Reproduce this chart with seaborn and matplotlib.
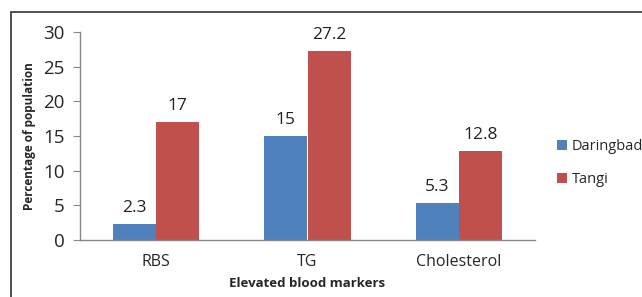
import numpy as np
import matplotlib
matplotlib.use("Agg")
import matplotlib.pyplot as plt
import matplotlib.patches as mpatches
import seaborn as sns
import pandas as pd

# Chart data
markers = ["RBS", "TG", "Cholesterol"]
daringbad = [2.3, 15, 5.3]
tangi = [17, 27.2, 12.8]
groups = ["Daringbad", "Tangi"]
yticks = [0, 5, 10, 15, 20, 25, 30]

df = pd.DataFrame({
    "marker": markers * 2,
    "value": daringbad + tangi,
    "group": [groups[0]] * 3 + [groups[1]] * 3,
})

sns.set_style("white")
plt.rcParams["font.family"] = ["Open Sans", "DejaVu Sans"]

fig = plt.figure(figsize=(6.42, 2.97), dpi=100)
ax = fig.add_axes([80 / 642, 1 - 240 / 297, 455 / 642, 208 / 297])

sns.barplot(data=df, x="marker", y="value", hue="group", ax=ax,
            palette=["#4F81BD", "#C0504D"], width=0.57, saturation=1,
            linewidth=0)

# value labels above bars
for cont in ax.containers:
    ax.bar_label(cont, labels=[f"{v:g}" for v in cont.datavalues],
                 padding=6, fontsize=12.5, color="#222222")

ax.set_ylim(0, 30)
ax.set_yticks(yticks)
ax.set_yticklabels([str(t) for t in yticks], fontsize=13.5)
ax.set_xlim(-0.5, 2.5)
ax.set_xticks([0, 1, 2])
ax.set_xticklabels(markers, fontsize=11.5)
ax.set_xticks([-0.5, 0.5, 1.5, 2.5], minor=True)
ax.tick_params(axis="x", which="major", length=0, pad=10)
ax.tick_params(axis="x", which="minor", length=5, color="#888888", direction="out")
ax.tick_params(axis="y", length=5, color="#888888", direction="out", pad=6, left=True)

ax.set_xlabel("Elevated blood markers", fontsize=9.5, fontweight="bold", labelpad=5)
ax.set_ylabel("Percentage of population", fontsize=8.5, fontweight="bold", labelpad=5)

for s in ["top", "right"]:
    ax.spines[s].set_visible(False)
for s in ["left", "bottom"]:
    ax.spines[s].set_color("#888888")
    ax.spines[s].set_linewidth(1)

ax.legend(loc="center left", bbox_to_anchor=(1.02, 0.37), frameon=False,
          fontsize=10.5, handlelength=0.7, handleheight=0.7, handletextpad=0.3,
          labelspacing=1.2)

# outer frame of the chart area
fig.patches.append(mpatches.Rectangle((11 / 642, -0.1), 1.2, 1 - 12 / 297 + 0.1,
                                      transform=fig.transFigure, fill=False,
                                      edgecolor="#333333", linewidth=1.2))

fig.savefig("out.png", dpi=100)
